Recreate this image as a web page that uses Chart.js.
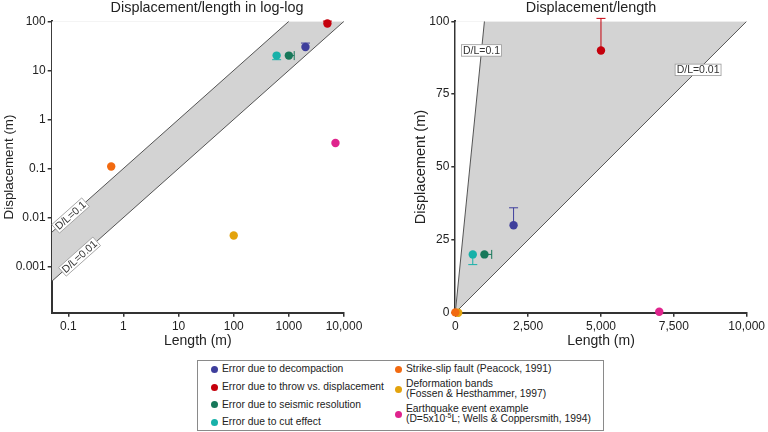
<!DOCTYPE html>
<html>
<head>
<meta charset="utf-8">
<script src="https://cdn.jsdelivr.net/npm/chart.js@4.4.1/dist/chart.umd.min.js"></script>
<style>
  body { margin: 0; background: #fff; font-family: "Liberation Sans", Arial, sans-serif; color: #222; }
  #page { position: relative; width: 768px; height: 432px; overflow: hidden; }
  canvas { position: absolute; top: 0; }
  #logChart { left: 0; }
  #linChart { left: 384px; }
  .title { position: absolute; top: -1px; font-size: 14.4px; line-height: 16px; transform: translateX(-50%); white-space: nowrap; }
  #legend { position: absolute; left: 197px; top: 360px; width: 405px; height: 69px; border: 1px solid #8a8a8a; font-size: 10.3px; }
  .item { position: absolute; white-space: nowrap; line-height: 10.3px; }
  .dot { position: absolute; width: 7px; height: 7px; border-radius: 50%; }
</style>
</head>
<body>
<div id="page">
  <canvas id="logChart" width="384" height="355"></canvas>
  <canvas id="linChart" width="384" height="355"></canvas>
  <div class="title" style="left:207px">Displacement/length in log-log</div>
  <div class="title" style="left:591px">Displacement/length</div>
  <div id="legend"></div>
</div>
<script>
// data
const seriesLabels = [
  'Error due to decompaction',
  'Error due to throw vs. displacement',
  'Error due to seismic resolution',
  'Error due to cut effect',
  'Strike-slip fault (Peacock, 1991)',
  'Deformation bands<br>(Fossen &amp; Hesthammer, 1997)',
  'Earthquake event example<br>(D=5x10<sup style="font-size:7px;line-height:0">-5</sup>L; Wells &amp; Coppersmith, 1994)'
];
const seriesColors = ['#3e3e9c', '#c5000c', '#17785a', '#17b1a9', '#f26a10', '#e3a30d', '#df248d'];
const lengthValues = [2000, 5000, 1000, 600, 0.6, 100, 7000];
const displacementValues = [30, 90, 20, 20, 0.11, 0.0043, 0.33];
const lengthErrorTo = [null, null, 1250, null, null, null, null];
const displacementErrorTo = [36, 101, null, 16.5, null, null, null];

const ratioValues = [0.1, 0.01];
const ratioLabels = ['D/L=0.1', 'D/L=0.01'];

const logLengthTicks = [0.1, 1, 10, 100, 1000, 10000];
const logLengthTickLabels = ['0.1', '1', '10', '100', '1000', '10,000'];
const logDisplacementTicks = [0.001, 0.01, 0.1, 1, 10, 100];
const logDisplacementTickLabels = ['0.001', '0.01', '0.1', '1', '10', '100'];
const linLengthTicks = [0, 2500, 5000, 7500, 10000];
const linLengthTickLabels = ['0', '2,500', '5,000', '7,500', '10,000'];
const linDisplacementTicks = [0, 25, 50, 75, 100];
const linDisplacementTickLabels = ['0', '25', '50', '75', '100'];

Chart.defaults.font.family = '"Liberation Sans", Arial, sans-serif';
Chart.defaults.color = '#222';

// whiskers drawn just before each point
const errorBarPlugin = {
  id: 'errorBars',
  beforeDatasetDraw(chart, args) {
    const ds = chart.data.datasets[args.index];
    if (ds.errX == null && ds.errY == null) return;
    const sx = chart.scales.x, sy = chart.scales.y, ctx = chart.ctx;
    const p = ds.data[0];
    const px = sx.getPixelForValue(p.x), py = sy.getPixelForValue(p.y);
    ctx.save();
    ctx.strokeStyle = ds.backgroundColor;
    ctx.lineWidth = 1;
    ctx.beginPath();
    if (ds.errY != null) {
      const ey = sy.getPixelForValue(ds.errY);
      ctx.moveTo(px, py); ctx.lineTo(px, ey);
      ctx.moveTo(px - 4.5, ey); ctx.lineTo(px + 4.5, ey);
    }
    if (ds.errX != null) {
      const ex = sx.getPixelForValue(ds.errX);
      ctx.moveTo(px, py); ctx.lineTo(ex, py);
      ctx.moveTo(ex, py - 4.5); ctx.lineTo(ex, py + 4.5);
    }
    ctx.stroke();
    ctx.restore();
  }
};

// boxed D/L labels sitting on the ratio lines
const ratioLabelPlugin = {
  id: 'ratioLabels',
  afterDatasetsDraw(chart, args, opts) {
    const sx = chart.scales.x, sy = chart.scales.y, ctx = chart.ctx;
    ratioValues.forEach((r, i) => {
      const L = opts.at[i];
      const px = sx.getPixelForValue(L), py = sy.getPixelForValue(r * L);
      let angle = 0;
      if (opts.follow) {
        angle = Math.atan2(sy.getPixelForValue(r * L * 2) - py, sx.getPixelForValue(L * 2) - px);
      }
      ctx.save();
      ctx.translate(px, py);
      ctx.rotate(angle);
      ctx.font = '10.5px "Liberation Sans", Arial, sans-serif';
      const w = ctx.measureText(ratioLabels[i]).width + 3, h = 11.5;
      ctx.fillStyle = '#fff';
      ctx.fillRect(-w / 2, -h / 2, w, h);
      ctx.strokeStyle = '#999';
      ctx.lineWidth = 0.8;
      ctx.strokeRect(-w / 2, -h / 2, w, h);
      ctx.fillStyle = '#333';
      ctx.textAlign = 'center';
      ctx.textBaseline = 'middle';
      ctx.fillText(ratioLabels[i], 0, 0.5);
      ctx.restore();
    });
  }
};

// grey above the D/L=0.01 line, white again above the D/L=0.1 line
function bandDatasets(xMin, xMax, yMax) {
  return ratioValues.map((r, i) => {
    const end = yMax / r < xMax ? {x: yMax / r, y: yMax} : {x: xMax, y: r * xMax};
    return {
      data: [{x: xMin, y: r * xMin}, end],
      showLine: true,
      pointRadius: 0,
      borderWidth: 1,
      borderColor: '#555',
      backgroundColor: i === 0 ? '#ffffff' : '#d3d3d3',
      fill: 'end',
      order: 1
    };
  });
}

function pointDatasets() {
  return lengthValues.map((L, i) => ({
    data: [{x: L, y: displacementValues[i]}],
    backgroundColor: seriesColors[i],
    borderWidth: 0,
    pointRadius: 4.2,
    clip: false,
    order: 0,
    errX: lengthErrorTo[i],
    errY: displacementErrorTo[i]
  }));
}

function axis(type, min, max, ticks, labels, title, titleSize, titlePad, fixed, isX) {
  return {
    type: type,
    min: min,
    max: max,
    bounds: 'data',
    border: {color: '#333', width: 2},
    grid: {drawOnChartArea: false, drawTicks: true, tickLength: 4, color: '#333', lineWidth: 1.5},
    ticks: {
      font: {size: 12},
      color: '#222',
      padding: isX ? 3 : 2,
      maxRotation: 0,
      autoSkip: false,
      callback: (v, i) => labels[i]
    },
    afterBuildTicks: s => { s.ticks = ticks.map(v => ({value: v})); },
    afterFit: s => { if (isX) s.height = fixed; else s.width = fixed; },
    title: {display: true, text: title, color: '#222', font: {size: titleSize}, padding: titlePad}
  };
}

function makeChart(id, scales, padding, labelOpts, xMin, xMax, yMax) {
  return new Chart(document.getElementById(id), {
    type: 'scatter',
    data: {datasets: pointDatasets().concat(bandDatasets(xMin, xMax, yMax))},
    options: {
      responsive: false,
      animation: false,
      events: [],
      layout: {padding: padding, autoPadding: false},
      plugins: {legend: {display: false}, tooltip: {enabled: false}, ratioLabels: labelOpts},
      scales: scales
    },
    plugins: [errorBarPlugin, ratioLabelPlugin]
  });
}

makeChart('logChart', {
  x: axis('logarithmic', 0.05, 10000, logLengthTicks, logLengthTickLabels, 'Length (m)', 14, {top: 0, bottom: 5}, 42.3, true),
  y: axis('logarithmic', 0.000115, 100, logDisplacementTicks, logDisplacementTickLabels, 'Displacement (m)', 13.4, {top: 1.6, bottom: 0}, 51.7, false)
}, {left: 0, top: 21.3, right: 40, bottom: 0}, {at: [0.11, 0.16], follow: true}, 0.05, 10000, 100);

makeChart('linChart', {
  x: axis('linear', 0, 10000, linLengthTicks, linLengthTickLabels, 'Length (m)', 14, {top: 0, bottom: 5}, 42.3, true),
  y: axis('linear', 0, 100, linDisplacementTicks, linDisplacementTickLabels, 'Displacement (m)', 14.6, {top: 0, bottom: 0}, 43.3, false)
}, {left: 28, top: 21.3, right: 19.7, bottom: 0}, {at: [900, 8333], follow: false}, 0, 10000, 100);

// two-column legend
const legend = document.getElementById('legend');
const legendRows = [8.3, 26, 43.7, 61.3, 8.3, 28.2, 53];
seriesLabels.forEach((text, i) => {
  const right = i >= 4;
  const lines = text.split('<br>').length;
  const cy = legendRows[i];
  const dot = document.createElement('div');
  dot.className = 'dot';
  dot.style.background = seriesColors[i];
  dot.style.left = (right ? 196.5 : 12.5) + 'px';
  dot.style.top = (cy - 3.5) + 'px';
  legend.appendChild(dot);
  const item = document.createElement('div');
  item.className = 'item';
  item.innerHTML = text;
  item.style.left = (right ? 208 : 24) + 'px';
  item.style.top = (cy - lines * 10.3 / 2) + 'px';
  legend.appendChild(item);
});
</script>
</body>
</html>
